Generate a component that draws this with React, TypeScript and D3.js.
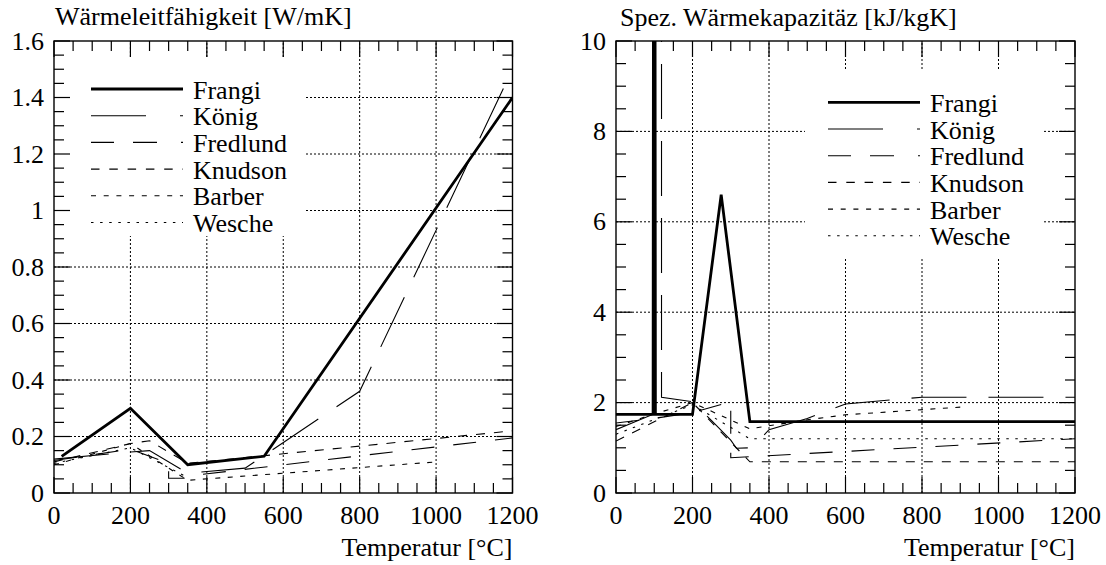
import React from "react";
import * as d3 from "d3";

type Pt = [number, number];

// ---------- data ----------
const seriesNames = ["Frangi", "König", "Fredlund", "Knudson", "Barber", "Wesche"];
const tempTicks = [0, 200, 400, 600, 800, 1000, 1200];
const lambdaTicks = [0, 0.2, 0.4, 0.6, 0.8, 1, 1.2, 1.4, 1.6];
const cpTicks = [0, 2, 4, 6, 8, 10];

const lambdaFrangi: Pt[] = [[20, 0.13], [200, 0.3], [350, 0.1], [550, 0.13], [1200, 1.4]];
const lambdaKoenig: Pt[] = [[0, 0.12], [200, 0.145], [250, 0.15], [350, 0.07], [500, 0.088], [800, 0.36], [1200, 1.5]];
const lambdaFredlund: Pt[] = [[0, 0.115], [200, 0.155], [300, 0.105], [300, 0.052], [340, 0.052], [350, 0.06], [1200, 0.195]];
const lambdaKnudson: Pt[] = [[0, 0.11], [200, 0.175], [250, 0.185], [350, 0.105], [1200, 0.22]];
const lambdaBarber: Pt[] = [[0, 0.1], [200, 0.175], [350, 0.045], [1000, 0.11]];
const lambdaWesche: Pt[] = [[0, 0.105], [200, 0.16], [350, 0.055]];

const cpFrangi: Pt[] = [[0, 1.74], [97, 1.74], [98, 12], [102, 12], [103, 1.74], [200, 1.74], [275, 6.6], [350, 1.58], [1200, 1.58]];
const cpKoenig: Pt[] = [[0, 1.4], [99, 1.75], [99, 13.6], [119, 13.6], [119, 2.12], [200, 2.02], [250, 1.6], [300, 1.17], [315, 0.99], [355, 1.0], [400, 1.4], [500, 1.65], [600, 1.97], [800, 2.12], [1200, 2.12]];
const cpFredlund: Pt[] = [[0, 1.55], [100, 1.65], [200, 1.78], [300, 2.02], [300, 0.78], [1200, 1.2]];
const cpKnudson: Pt[] = [[0, 1.15], [200, 2.0], [350, 0.69], [1200, 0.69]];
const cpBarber: Pt[] = [[0, 1.47], [100, 1.75], [200, 2.0], [350, 1.42], [500, 1.62], [600, 1.73], [900, 1.9]];
const cpWesche: Pt[] = [[0, 1.3], [200, 1.95], [350, 1.2], [1200, 1.2]];

// ---------- styles ----------
const FONT = '"Liberation Serif", "Times New Roman", Tinos, "DejaVu Serif", serif';
const FS = 26;
const TS: React.CSSProperties = { fontFamily: FONT, fontSize: FS };
const lineStyles = [
  { w: 2.8, dash: undefined as string | undefined, legendDash: undefined as string | undefined },
  { w: 1.1, dash: "55 22", legendDash: "55 34 3 20" },
  { w: 1.1, dash: "23 19", legendDash: "23 19 24 24 3 20" },
  { w: 1.1, dash: "9 9", legendDash: "8.5 9.8" },
  { w: 1.1, dash: "5 7.5", legendDash: "5 7.7" },
  { w: 1.1, dash: "2.5 6.5", legendDash: "2.5 6.6" },
];

type PanelProps = {
  id: string;
  x0: number; x1: number; y0: number; y1: number;
  yMax: number; yTicks: number[]; yMinorStep: number;
  series: Pt[][];
  title: string; titleX: number; titleY: number;
  box: [number, number, number, number];
  legX: number; legY: number;
};

function Panel(p: PanelProps) {
  const x = d3.scaleLinear().domain([0, 1200]).range([p.x0, p.x1]);
  const y = d3.scaleLinear().domain([0, p.yMax]).range([p.y0, p.y1]);
  const line = d3.line<Pt>().x((d) => x(d[0])).y((d) => y(d[1]));
  const xMinor = d3.range(0, 1200 + 1e-6, 50);
  const yMinor = d3.range(0, p.yMax + 1e-6, p.yMinorStep);
  const isMajX = (t: number) => Math.abs(t % 200) < 1e-6;
  const isMajY = (v: number) => p.yTicks.some((m) => Math.abs(m - v) < 1e-6);
  const gridX = tempTicks.slice(1, -1);
  const gridY = p.yTicks.slice(1, -1);
  const fmt = (v: number) => String(+v.toFixed(1));
  const legLen = 92;
  return (
    <g>
      <defs>
        <clipPath id={p.id}>
          <rect x={p.x0} y={p.y1} width={p.x1 - p.x0} height={p.y0 - p.y1} />
        </clipPath>
      </defs>
      {gridX.map((t) => (
        <line key={"gx" + t} x1={x(t)} x2={x(t)} y1={p.y0} y2={p.y1} stroke="#000" strokeWidth={1} strokeDasharray="2 2" />
      ))}
      {gridY.map((v) => (
        <line key={"gy" + v} x1={p.x0} x2={p.x1} y1={y(v)} y2={y(v)} stroke="#000" strokeWidth={1} strokeDasharray="2 2" />
      ))}
      <rect x={p.box[0]} y={p.box[1]} width={p.box[2] - p.box[0]} height={p.box[3] - p.box[1]} fill="#fff" />
      <g clipPath={`url(#${p.id})`}>
        {p.series.map((s, i) => (
          <path key={"s" + i} d={line(s) || ""} fill="none" stroke="#000" strokeWidth={lineStyles[i].w}
            strokeDasharray={lineStyles[i].dash} strokeLinejoin="miter" />
        ))}
      </g>
      <rect x={p.x0} y={p.y1} width={p.x1 - p.x0} height={p.y0 - p.y1} fill="none" stroke="#000" strokeWidth={1.4} />
      {xMinor.map((t) => {
        const L = isMajX(t) ? 16 : 10;
        return (
          <g key={"tx" + t}>
            <line x1={x(t)} x2={x(t)} y1={p.y0} y2={p.y0 - L} stroke="#000" strokeWidth={1.2} />
            <line x1={x(t)} x2={x(t)} y1={p.y1} y2={p.y1 + L} stroke="#000" strokeWidth={1.2} />
          </g>
        );
      })}
      {yMinor.map((v) => {
        const L = isMajY(v) ? 16 : 10;
        return (
          <g key={"ty" + v}>
            <line x1={p.x0} x2={p.x0 + L} y1={y(v)} y2={y(v)} stroke="#000" strokeWidth={1.2} />
            <line x1={p.x1} x2={p.x1 - L} y1={y(v)} y2={y(v)} stroke="#000" strokeWidth={1.2} />
          </g>
        );
      })}
      {tempTicks.map((t) => (
        <text key={"lx" + t} x={x(t)} y={524} textAnchor="middle" style={TS}>{t}</text>
      ))}
      {p.yTicks.map((v) => (
        <text key={"ly" + v} x={p.x0 - 10} y={y(v) + 8.5} textAnchor="end" style={TS}>{fmt(v)}</text>
      ))}
      <text x={p.x1} y={556} textAnchor="end" style={TS}>Temperatur [°C]</text>
      <text x={p.titleX} y={p.titleY} style={TS}>{p.title}</text>
      {seriesNames.map((n, i) => {
        const ly = p.legY + i * 26.7;
        return (
          <g key={"lg" + i}>
            <line x1={p.legX} x2={p.legX + legLen} y1={ly} y2={ly} stroke="#000" strokeWidth={lineStyles[i].w}
              strokeDasharray={lineStyles[i].legendDash} />
            <text x={p.legX + legLen + 10} y={ly + 9.5} style={TS}>{n}</text>
          </g>
        );
      })}
    </g>
  );
}

export default function App() {
  return (
    <div style={{ position: "absolute", left: 0, top: 0, width: 1106, height: 565, background: "#fff" }}>
      <svg width={1106} height={565} viewBox="0 0 1106 565">
        <rect x={0} y={0} width={1106} height={565} fill="#fff" />
        <Panel id="clipL" x0={54} x1={512.5} y0={493} y1={41} yMax={1.6} yTicks={lambdaTicks} yMinorStep={0.05}
          series={[lambdaFrangi, lambdaKoenig, lambdaFredlund, lambdaKnudson, lambdaBarber, lambdaWesche]}
          title="Wärmeleitfähigkeit [W/mK]" titleX={55} titleY={25}
          box={[55, 58, 305, 236]} legX={91} legY={89} />
        <Panel id="clipR" x0={616} x1={1075} y0={493} y1={41} yMax={10} yTicks={cpTicks} yMinorStep={0.5}
          series={[cpFrangi, cpKoenig, cpFredlund, cpKnudson, cpBarber, cpWesche]}
          title="Spez. Wärmekapazitäz [kJ/kgK]" titleX={620} titleY={26}
          box={[805, 70, 1042, 257]} legX={828} legY={102.3} />
      </svg>
    </div>
  );
}
